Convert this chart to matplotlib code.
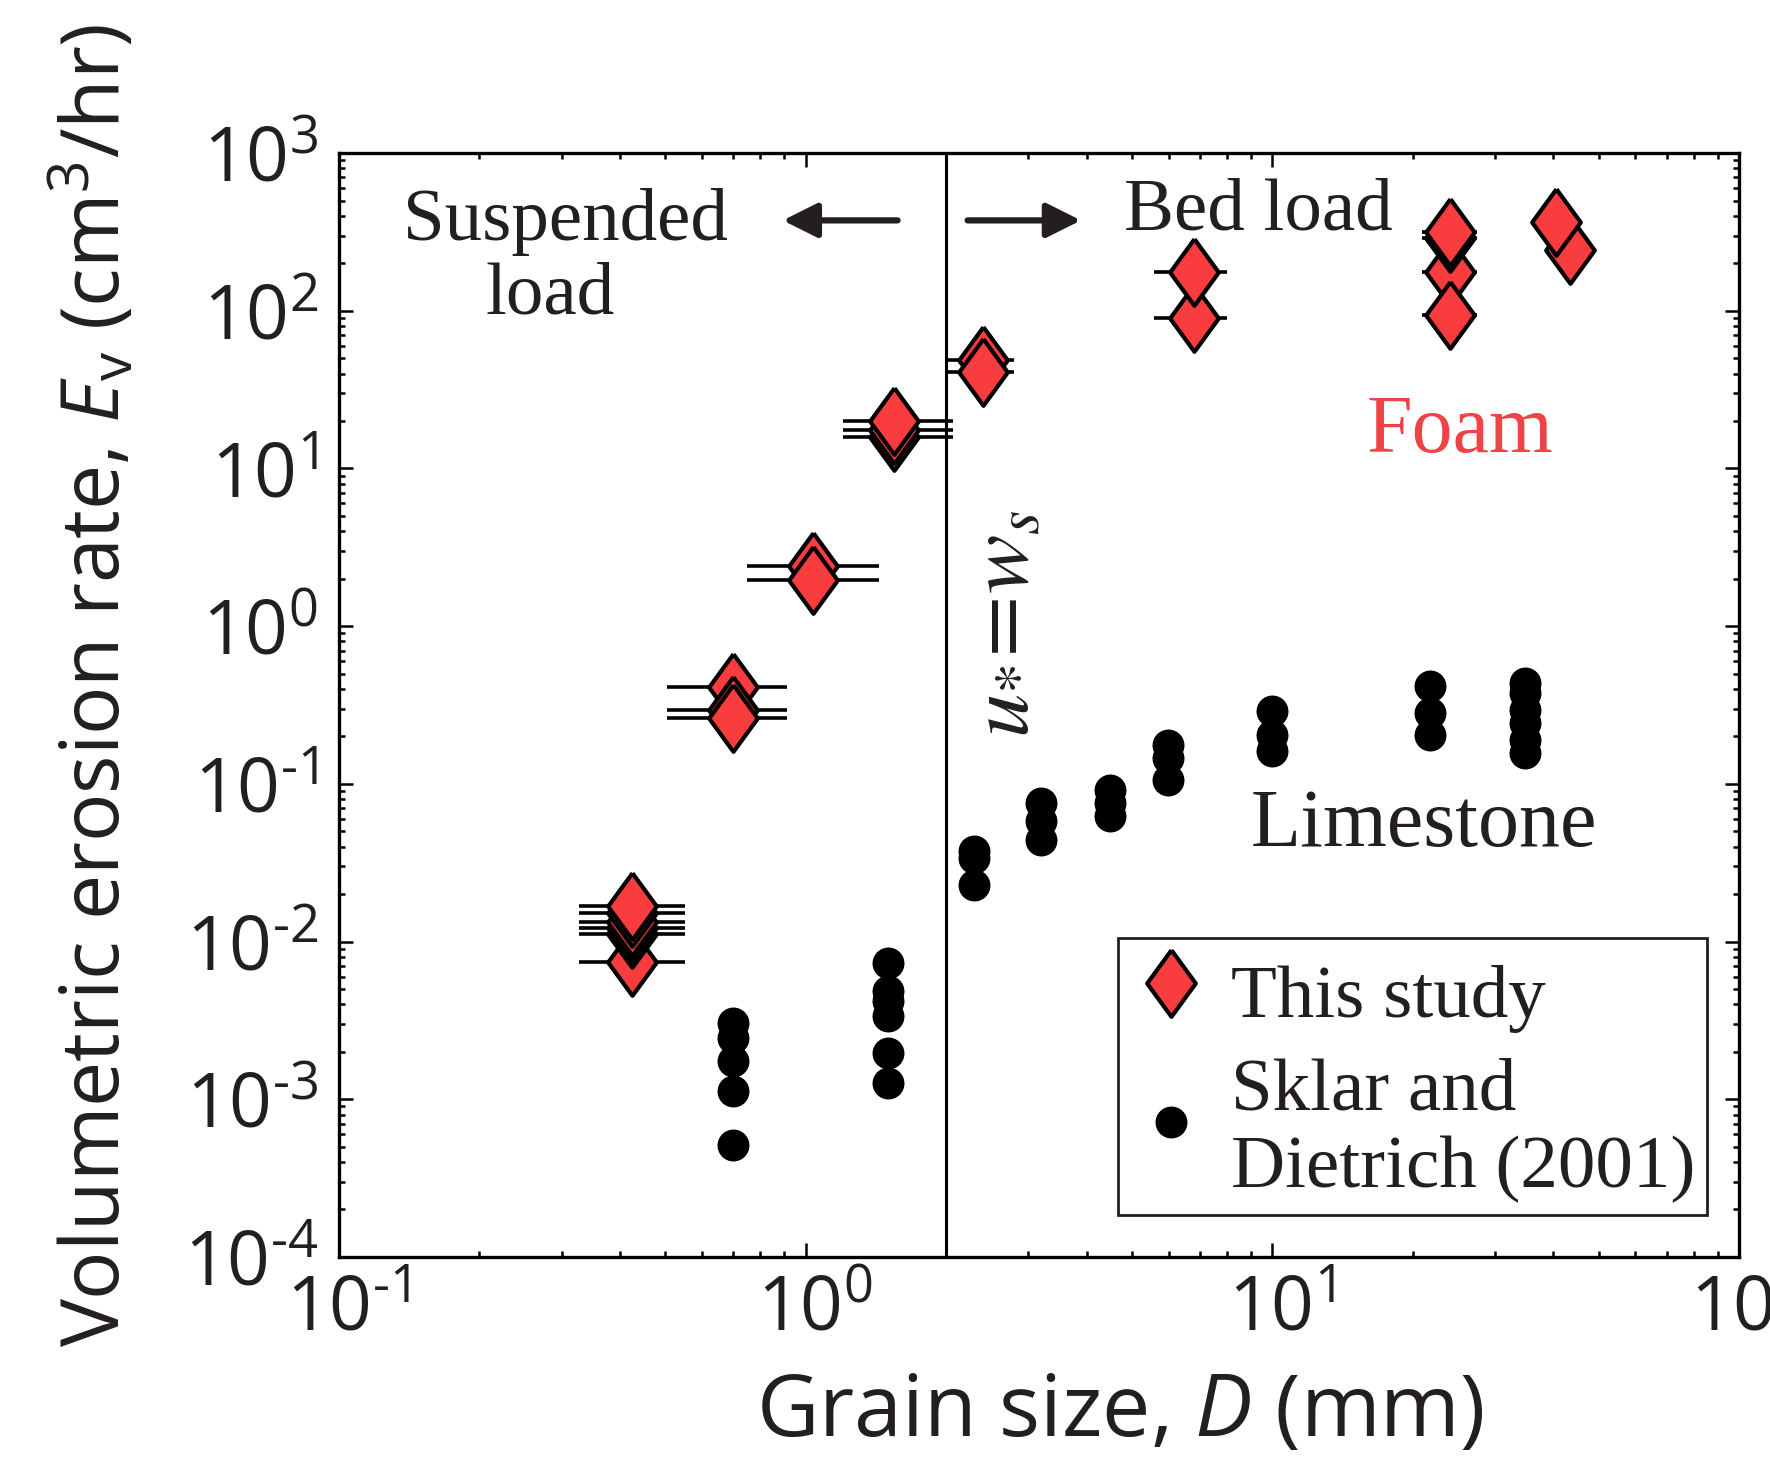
import matplotlib
matplotlib.use('Agg')
import matplotlib.pyplot as plt
import matplotlib.transforms as mtransforms
from matplotlib.markers import MarkerStyle
from matplotlib.lines import Line2D
from matplotlib.ticker import FuncFormatter
import numpy as np

# foam abrasion, this study: grain size (mm), sieve range (mm), erosion rate (cm3/hr)
foamD = [0.424, 0.424, 0.424, 0.424, 0.424, 0.424,
         0.698, 0.698, 0.698,
         1.037, 1.037,
         1.55, 1.55, 1.55,
         2.40, 2.40,
         6.79, 6.79,
         24.0, 24.0, 24.0, 24.0,
         43.5, 40.6]
foamDmin = [0.327, 0.327, 0.327, 0.327, 0.327, 0.327,
            0.504, 0.504, 0.504,
            0.750, 0.750,
            1.202, 1.202, 1.202,
            2.0, 2.0,
            5.58, 5.58,
            20.9, 20.9, 20.9, 20.9,
            43.5, 40.6]
foamDmax = [0.551, 0.551, 0.551, 0.551, 0.551, 0.551,
            0.911, 0.911, 0.911,
            1.436, 1.436,
            2.067, 2.067, 2.067,
            2.80, 2.80,
            7.98, 7.98,
            27.4, 27.4, 27.4, 27.4,
            43.5, 40.6]
foamE = [0.00747, 0.01124, 0.01227, 0.01339, 0.01527, 0.01690,
         0.413, 0.295, 0.261,
         2.42, 1.96,
         15.8, 17.6, 20.1,
         48.8, 40.6,
         89.6, 175,
         177, 94, 288, 317,
         243, 367]

# limestone, Sklar and Dietrich (2001)
limeD = [0.698] * 5 + [1.50] * 6 + [2.30] * 3 + [3.20] * 3 + [4.48] * 3 + \
        [5.98] * 3 + [10.0] * 3 + [21.8] * 3 + [34.8] * 6
limeE = [0.003055, 0.002455, 0.001745, 0.001126, 0.000509,
         0.00733, 0.00484, 0.00419, 0.00336, 0.00197, 0.00127,
         0.0373, 0.0339, 0.0230,
         0.0757, 0.0578, 0.0442,
         0.0918, 0.0757, 0.0622,
         0.177, 0.146, 0.1064,
         0.288, 0.205, 0.1607,
         0.415, 0.281, 0.205,
         0.4355, 0.3765, 0.295, 0.243, 0.1905, 0.157]

Dcrit = 2.0  # u* = ws

ink = '#231f20'
red = '#f93d3f'

plt.rcParams['mathtext.fontset'] = 'custom'
plt.rcParams['mathtext.rm'] = 'Open Sans'
plt.rcParams['mathtext.it'] = 'Open Sans:italic'
plt.rcParams['text.color'] = ink

diamond = MarkerStyle([(0, 1), (0.73, 0), (0, -1), (-0.73, 0), (0, 1)], joinstyle='miter')


def powlabel(v, pos):
    e = int(round(np.log10(v)))
    if e < 0:
        return r'$\mathdefault{10^{\text{-}%d}}$' % (-e)
    return r'$\mathdefault{10^{%d}}$' % e


fig = plt.figure(figsize=(17.7, 14.66), dpi=100)
ax = fig.add_axes([0.1915, 0.1426, 0.791, 0.753])
ax.set_xscale('log')
ax.set_yscale('log')
ax.set_xlim(0.1, 100)
ax.set_ylim(1e-4, 1e3)
ax.xaxis.set_major_formatter(FuncFormatter(powlabel))
ax.yaxis.set_major_formatter(FuncFormatter(powlabel))

ax.axvline(Dcrit, color='black', lw=2.2, zorder=1)

fD = np.array(foamD)
ax.errorbar(fD, foamE, xerr=[fD - np.array(foamDmin), np.array(foamDmax) - fD],
            fmt='none', ecolor='black', elinewidth=2.6, capsize=0, zorder=2)
ax.plot(limeD, limeE, 'o', color='black', markersize=23, markeredgewidth=0, zorder=3)
ax.plot(foamD, foamE, linestyle='none', marker=diamond, markersize=48,
        markerfacecolor=red, markeredgecolor='black', markeredgewidth=3.0, zorder=4)

for s in ax.spines.values():
    s.set_linewidth(2.4)
    s.set_color('black')
ax.tick_params(which='both', direction='in', top=True, right=True, width=1.8, color='black')
ax.tick_params(which='major', length=10)
ax.tick_params(which='minor', length=4.5)
ax.tick_params(axis='x', which='major', pad=12)
ax.tick_params(axis='y', which='major', pad=15)
ax.tick_params(labelsize=54, labelfontfamily='Open Sans', labelcolor=ink)

# x tick labels sit a little right of their ticks in the original
shift = mtransforms.ScaledTranslation(6.5 / 72, 0, fig.dpi_scale_trans)
for lab in ax.get_xticklabels():
    lab.set_transform(lab.get_transform() + shift)

ax.set_xlabel(r'Grain size, $\mathit{D}$ (mm)', fontsize=62, family='Open Sans', color=ink)
ax.set_ylabel(r'Volumetric erosion rate, $\mathit{E}_{\mathrm{v}}$ (cm$^{3}$/hr)',
              fontsize=58, family='Open Sans', color=ink)
ax.xaxis.set_label_coords(0.558, -0.103)
ax.yaxis.set_label_coords(-0.143, 0.518)

serif = 'Liberation Serif'
ax.text(0.162, 0.9208, 'Suspended', transform=ax.transAxes, ha='center', va='baseline',
        fontsize=54, family=serif)
ax.text(0.151, 0.8543, 'load', transform=ax.transAxes, ha='center', va='baseline',
        fontsize=54, family=serif)
ax.text(0.561, 0.931, 'Bed load', transform=ax.transAxes, ha='left', va='baseline',
        fontsize=54, family=serif)
ax.text(0.734, 0.7296, 'Foam', transform=ax.transAxes, ha='left', va='baseline',
        fontsize=59, family=serif, color='#ee4347')
ax.text(0.651, 0.372, 'Limestone', transform=ax.transAxes, ha='left', va='baseline',
        fontsize=59, family=serif)
ax.text(0.475, 0.574, r'$u_{*}\!=\!w_{s}$', transform=ax.transAxes, ha='center', va='center',
        rotation=90, fontsize=64, math_fontfamily='stix')

arrow = dict(arrowstyle='-|>,head_length=0.7,head_width=0.35', lw=4.5, color=ink,
             mutation_scale=30, shrinkA=0, shrinkB=0)
ax.annotate('', xy=(0.317, 0.939), xytext=(0.399, 0.939), xycoords='axes fraction',
            arrowprops=arrow)
ax.annotate('', xy=(0.530, 0.939), xytext=(0.449, 0.939), xycoords='axes fraction',
            arrowprops=arrow)

handles = [Line2D([], [], linestyle='none', marker=diamond, markersize=48,
                  markerfacecolor=red, markeredgecolor='black', markeredgewidth=3.0),
           Line2D([], [], linestyle='none', marker='o', markersize=23,
                  color='black', markeredgewidth=0)]
leg = ax.legend(handles, ['This study', 'Sklar and\nDietrich (2001)'], loc='lower right',
                bbox_to_anchor=(0.977, 0.0384), borderaxespad=0, fancybox=False,
                edgecolor=ink, framealpha=1, prop={'family': serif, 'size': 54},
                handlelength=1.12, handleheight=1.4, handletextpad=0.24, borderpad=0.15,
                labelspacing=0.3)
leg.get_frame().set_linewidth(2.0)
for t in leg.get_texts():
    t.set_color(ink)

fig.savefig('out.png', dpi=100)
